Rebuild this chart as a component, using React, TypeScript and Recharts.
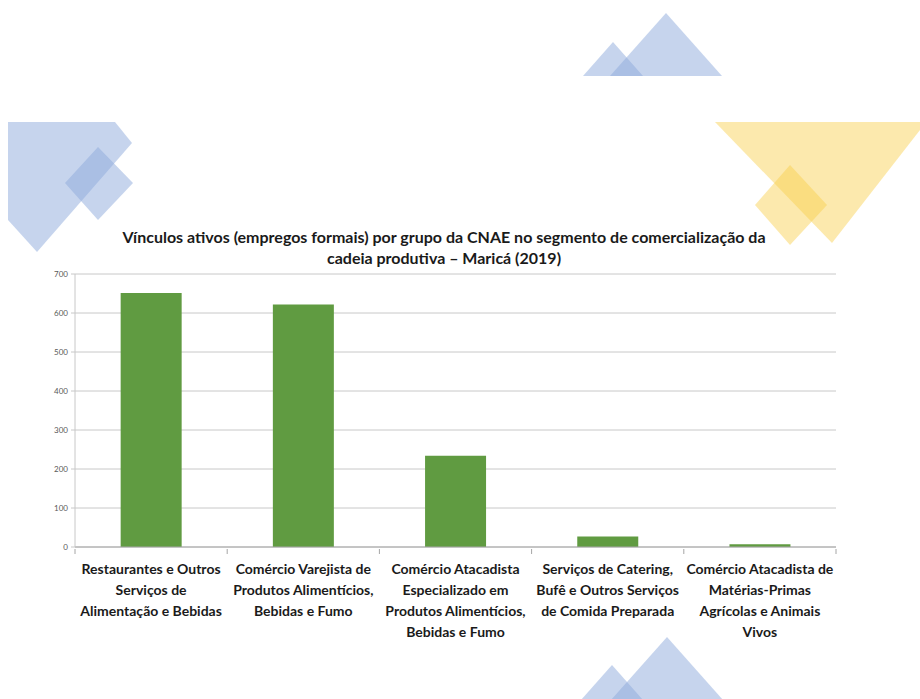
import { BarChart, Bar, XAxis, YAxis, CartesianGrid } from 'recharts';

const categories = [
  'Restaurantes e Outros|Serviços de|Alimentação e Bebidas',
  'Comércio Varejista de|Produtos Alimentícios,|Bebidas e Fumo',
  'Comércio Atacadista|Especializado em|Produtos Alimentícios,|Bebidas e Fumo',
  'Serviços de Catering,|Bufê e Outros Serviços|de Comida Preparada',
  'Comércio Atacadista de|Matérias-Primas|Agrícolas e Animais|Vivos',
];
const vinculos = [651, 622, 234, 27, 7];
const yTicks = [0, 100, 200, 300, 400, 500, 600, 700];

const titleLines = [
  'Vínculos ativos (empregos formais) por grupo da CNAE no segmento de comercialização da',
  'cadeia produtiva – Maricá (2019)',
];

const data = categories.map((c, i) => ({ name: c, value: vinculos[i] }));

const FONT = 'Lato, "DejaVu Sans Condensed", Arial, sans-serif';
const CHART_W = 920;
const M_LEFT = 0;
const Y_W = 75;
const M_RIGHT = 84;
const BAND = (CHART_W - M_LEFT - Y_W - M_RIGHT) / categories.length;

function XTick(props: any) {
  const { x, y, payload, index } = props;
  const lines: string[] = String(payload.value).split('|');
  return (
    <g>
      <line x1={x - BAND / 2} x2={x - BAND / 2} y1={y} y2={y + 5} stroke="#a6a6a6" />
      {index === categories.length - 1 && (
        <line x1={x + BAND / 2} x2={x + BAND / 2} y1={y} y2={y + 5} stroke="#a6a6a6" />
      )}
      <text x={x} y={y + 25} textAnchor="middle" fontFamily={FONT} fontWeight="bold" fontSize={14} fill="#1a1a1a">
        {lines.map((l, i) => (
          <tspan key={i} x={x} dy={i === 0 ? 0 : 21}>{l}</tspan>
        ))}
      </text>
    </g>
  );
}

function Decorations() {
  return (
    <svg width={920} height={699} style={{ position: 'absolute', left: 0, top: 0 }}>
      {/* top blue triangles */}
      <polygon points="583,76 613,42 643,76" fill="#8ea9db" fillOpacity={0.5} />
      <polygon points="610,76 666,13 722,76" fill="#8ea9db" fillOpacity={0.5} />
      {/* bottom blue triangles */}
      <polygon points="581,700 612,665 643,700" fill="#8ea9db" fillOpacity={0.5} />
      <polygon points="611,700 667,637 723,700" fill="#8ea9db" fillOpacity={0.5} />
      {/* left blue shape + diamond */}
      <polygon points="8,122 115,122 132,143 37,252 8,220" fill="#8ea9db" fillOpacity={0.5} />
      <polygon points="98,147 133,183 98,220 65,183" fill="#8ea9db" fillOpacity={0.5} />
      {/* right yellow triangle + diamond */}
      <polygon points="715,122 920,122 920,130 832,243" fill="#f8cf4a" fillOpacity={0.45} />
      <polygon points="790,165 827,205 790,245 755,205" fill="#f8cf4a" fillOpacity={0.45} />
    </svg>
  );
}

export default function App() {
  return (
    <div style={{ position: 'absolute', left: 0, top: 0, width: 920, height: 699, background: '#fff', overflow: 'hidden' }}>
      <Decorations />
      <div
        style={{
          position: 'absolute',
          left: 0,
          top: 226,
          width: 888,
          textAlign: 'center',
          fontFamily: FONT,
          fontWeight: 'bold',
          fontSize: 16,
          lineHeight: '21px',
          color: '#1a1a1a',
        }}
      >
        {titleLines.map((t, i) => (
          <div key={i}>{t}</div>
        ))}
      </div>
      <div style={{ position: 'absolute', left: 0, top: 260 }}>
        <BarChart
          width={CHART_W}
          height={439}
          data={data}
          margin={{ top: 14, right: M_RIGHT, left: M_LEFT, bottom: 52 }}
          barCategoryGap="30%"
        >
          <CartesianGrid vertical={false} stroke="#c8c8c8" />
          <XAxis
            dataKey="name"
            interval={0}
            height={100}
            tickLine={false}
            tickSize={0}
            axisLine={{ stroke: '#a6a6a6' }}
            tick={<XTick />}
          />
          <YAxis
            width={Y_W}
            domain={[0, 700]}
            ticks={yTicks}
            interval={0}
            tickSize={4}
            tickMargin={3}
            axisLine={{ stroke: '#c8c8c8' }}
            tickLine={{ stroke: '#c8c8c8' }}
            tick={{ fontSize: 8, fill: '#595959', fontFamily: FONT }}
          />
          <Bar dataKey="value" fill="#609b41" isAnimationActive={false} />
        </BarChart>
      </div>
    </div>
  );
}
